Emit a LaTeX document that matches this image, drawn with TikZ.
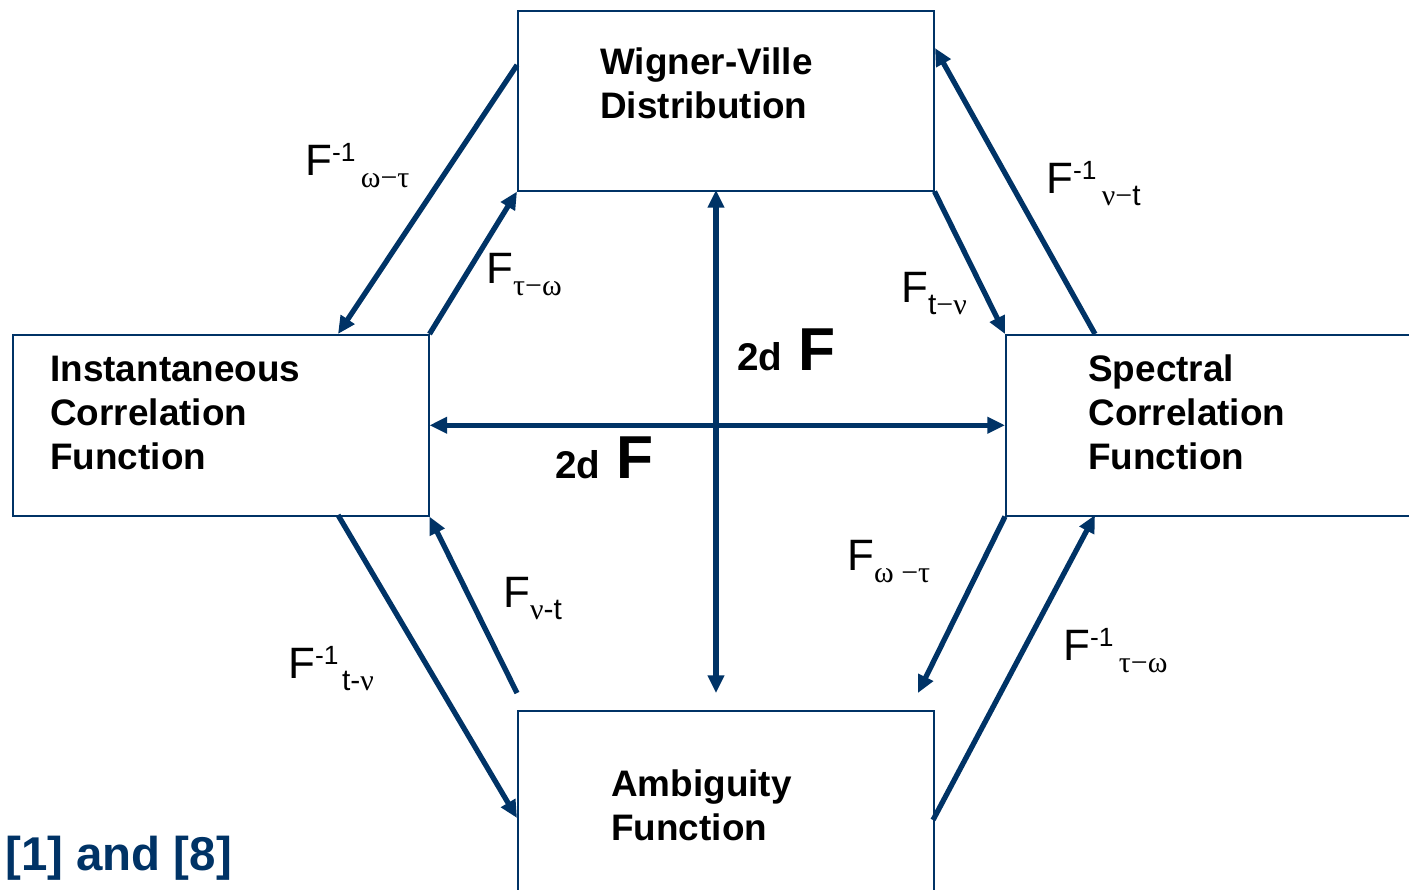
\documentclass[tikz,border=0pt]{standalone}
\usepackage{fontspec}
\setmainfont{Liberation Sans}
\newfontfamily\grk{Liberation Serif}
\usetikzlibrary{arrows.meta}
\definecolor{navy}{RGB}{0,51,102}
\newcommand{\FLab}[2]{{\fontsize{25}{30}\selectfont F}\raisebox{7.5pt}{\fontsize{15}{18}\selectfont #1}\raisebox{-7pt}{\fontsize{17}{20}\selectfont #2}}
\newcommand{\TwoDF}{{\fontsize{22}{26}\selectfont\bfseries 2d}\hspace{9pt}{\fontsize{34.5}{40}\selectfont\bfseries F}}
\begin{document}
\begin{tikzpicture}[x=0.02cm,y=-0.02cm,
  box/.style={draw=navy,line width=0.9pt,inner sep=0},
  boxtext/.style={font=\fontsize{21}{25}\selectfont\bfseries,align=left,anchor=base west,inner sep=0},
  lab/.style={anchor=base west,inner sep=0},
  arr/.style={draw=navy,line width=3pt,-{Triangle[length=10pt,width=9pt]}},
  darr/.style={draw=navy,line width=3pt,{Triangle[length=10pt,width=9pt]}-{Triangle[length=10pt,width=9pt]}}]
\useasboundingbox (0,0) rectangle (1409,889);
\clip (0,0) rectangle (1409,889);
% boxes
\node[box,minimum width=8.32cm,minimum height=3.6cm,anchor=north west] (wv) at (517,10) {};
\node[box,minimum width=8.32cm,minimum height=3.62cm,anchor=north west] (icf) at (12,334) {};
\node[box,minimum width=8.4cm,minimum height=3.62cm,anchor=north west] (scf) at (1005,334) {};
\node[box,minimum width=8.32cm,minimum height=4cm,anchor=north west] (amb) at (517,710) {};
% box texts (base = last line)
\node[boxtext] (wvt) at (600,118) {Wigner-Ville\\Distribution};
\node[boxtext] (icft) at (50,469) {Instantaneous\\Correlation\\Function};
\node[boxtext] (scft) at (1088,469) {Spectral\\Correlation\\Function};
\node[boxtext] (ambt) at (611,840) {Ambiguity\\Function};
% connector end points
\coordinate (p1) at (517,65);
\coordinate (p2) at (338,334);
\coordinate (p3) at (1095,334);
\coordinate (p4) at (935,48);
\coordinate (vt) at (716,190);
\coordinate (vb) at (716,693);
\coordinate (p7) at (338,515);
\coordinate (p8) at (517,818);
\coordinate (p9) at (517,693);
\coordinate (p10) at (918,693);
\coordinate (p11) at (933,820);
\coordinate (p12) at (1095,515);
% arrows
\draw[arr] (p1) -- (p2);
\draw[arr] (icf.north east) -- (wv.south west);
\draw[arr] (wv.south east) -- (scf.north west);
\draw[arr] (p3) -- (p4);
\draw[darr] (vt) -- (vb);
\draw[darr] (icf.east) -- (scf.west);
\draw[arr] (p7) -- (p8);
\draw[arr] (p9) -- (icf.south east);
\draw[arr] (scf.south west) -- (p10);
\draw[arr] (p11) -- (p12);
% labels
\node[lab] (l1) at (305,175) {\FLab{-1}{\hspace{3pt}\grk ω−τ}};
\node[lab] (l2) at (486,283) {\FLab{}{\grk τ−ω}};
\node[lab] (l3) at (901,302) {\FLab{}{t{\grk −ν}}};
\node[lab] (l4) at (1046,193) {\FLab{-1}{\hspace{3pt}{\grk ν−}t}};
\node[lab] (l5) at (847,570) {\FLab{}{\grk ω −τ}};
\node[lab] (l6) at (1063,660) {\FLab{-1}{\hspace{3pt}\grk τ−ω}};
\node[lab] (l7) at (503,607) {\FLab{}{{\grk ν}-t}};
\node[lab] (l8) at (288,678) {\FLab{-1}{\hspace{2pt}t-{\grk ν}}};
\node[lab] (d1) at (737,370) {\TwoDF};
\node[lab] (d2) at (555,478) {\TwoDF};
\node[lab,text=navy,font=\fontsize{27}{30}\selectfont\bfseries] (ref) at (5,870) {[1] and [8]};
\end{tikzpicture}
\end{document}
